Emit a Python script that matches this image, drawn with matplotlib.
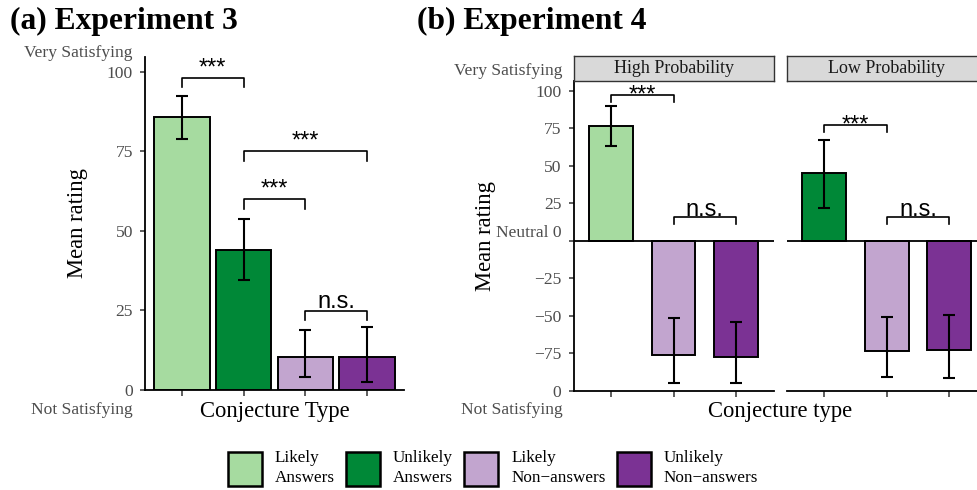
import numpy as np
import matplotlib
matplotlib.use("Agg")
from matplotlib import pyplot as plt
from matplotlib.patches import Patch

plt.rcParams['font.family'] = ['Liberation Serif', 'DejaVu Serif']

# conjecture types and their fill colours (PRGn)
types = ["Likely\nAnswers", "Unlikely\nAnswers", "Likely\nNon\u2212answers", "Unlikely\nNon\u2212answers"]
colours = ["#a6dba0", "#008837", "#c2a5cf", "#7b3294"]

# Experiment 3: mean rating with CI, one bar per type
exp3_type = [0, 1, 2, 3]
exp3_mean = [85.8, 44.0, 10.5, 10.5]
exp3_lo = [78.9, 34.5, 4.2, 2.6]
exp3_hi = [92.4, 53.6, 18.8, 19.7]
exp3_pairs = [(1, 2), (2, 4), (2, 3), (3, 4)]
exp3_bracket_y = [98.1, 75.1, 60.0, 24.9]
exp3_signif = ["***", "***", "***", "n.s."]

# Experiment 4: two probability facets, three bars each
exp4_facets = ["High Probability", "Low Probability"]
exp4_type = [[0, 2, 3], [1, 2, 3]]
exp4_mean = [[76.7, -76.0, -77.5], [45.1, -73.3, -72.7]]
exp4_lo = [[63.3, -94.9, -94.7], [21.5, -90.7, -91.8]]
exp4_hi = [[90.0, -51.8, -54.2], [67.1, -51.1, -49.3]]
exp4_pairs = [[(1, 2), (2, 3)], [(1, 2), (2, 3)]]
exp4_bracket_y = [[97.3, 15.6], [77.3, 15.6]]
exp4_signif = [["***", "n.s."], ["***", "n.s."]]

exp3_yticks = [0, 25, 50, 75, 100]
exp3_yticklabels = ["0", "25", "50", "75", "100"]
exp4_yticks = [-100, -75, -50, -25, 0, 25, 50, 75, 100]
exp4_yticklabels = ["0", "\u221275", "\u221250", "\u221225", "Neutral 0", "25", "50", "75", "100"]

W, H = 977, 490
GREY = "#4d4d4d"


def px(x, y):
    return x / W, 1 - y / H


def box(x0, y0, x1, y1):
    return [x0 / W, 1 - y1 / H, (x1 - x0) / W, (y1 - y0) / H]


def style_axis(ax, left=True):
    for s in ["top", "right"]:
        ax.spines[s].set_visible(False)
    ax.spines["bottom"].set_linewidth(1.3)
    ax.spines["left"].set_linewidth(1.3)
    if not left:
        ax.spines["left"].set_visible(False)
        ax.tick_params(axis="y", left=False, labelleft=False)
    ax.tick_params(axis="x", length=4.5, width=1.1, color="#333333", labelbottom=False)
    ax.tick_params(axis="y", length=3.6, width=1.1, color="#333333", pad=5,
                   labelsize=12.6, labelcolor=GREY)


def draw_bars(ax, types_idx, means, lo, hi, width):
    x = np.arange(1, len(means) + 1)
    means = np.array(means)
    ax.bar(x, means, width=width, color=[colours[i] for i in types_idx],
           edgecolor="black", linewidth=1.4, zorder=2)
    ax.errorbar(x, means, yerr=[means - np.array(lo), np.array(hi) - means],
                fmt="none", ecolor="black", elinewidth=1.5, capsize=4.3,
                capthick=1.5, zorder=3)
    ax.set_xticks(x)


def bracket(ax, a, b, y, label, drop, offset):
    ax.plot([a, a, b, b], [y - drop, y, y, y - drop], color="black", lw=1.2,
            zorder=3, clip_on=False)
    ax.annotate(label, ((a + b) / 2, y), xytext=(0, offset), textcoords="offset points",
                ha="center", va="baseline", fontsize=17, family="Liberation Sans",
                annotation_clip=False)


fig = plt.figure(figsize=(W / 100, H / 100), dpi=100)

# (a) Experiment 3
ax1 = fig.add_axes(box(145, 57, 404, 390))
draw_bars(ax1, exp3_type, exp3_mean, exp3_lo, exp3_hi, 0.9)
for (a, b), y, lab in zip(exp3_pairs, exp3_bracket_y, exp3_signif):
    bracket(ax1, a, b, y, lab, 3.05, 2.3)
ax1.set_xlim(0.4, 4.6)
ax1.set_ylim(0, 104.6)
ax1.set_yticks(exp3_yticks, exp3_yticklabels)
style_axis(ax1)

fig.text(*px(10, 21), "(a) Experiment 3", fontsize=22.7, fontweight="bold", va="center")
fig.text(*px(78, 223), "Mean rating", fontsize=16.3, rotation=90, ha="center", va="center")
fig.text(*px(274.5, 401), "Conjecture Type", fontsize=16.3, ha="center", va="top")
fig.text(*px(132.7, 52.7), "Very Satisfying", fontsize=12.6, color=GREY, ha="right", va="center")
fig.text(*px(132.7, 410), "Not Satisfying", fontsize=12.6, color=GREY, ha="right", va="center")

# (b) Experiment 4, one panel per facet
panel_x = [(573.5, 773.5), (786.7, 986.7)]
for k, (x0, x1) in enumerate(panel_x):
    ax = fig.add_axes(box(x0, 80.7, x1, 390.7))
    draw_bars(ax, exp4_type[k], exp4_mean[k], exp4_lo[k], exp4_hi[k], 0.7)
    ax.axhline(0, color="black", lw=1.3, zorder=2)
    for (a, b), y, lab in zip(exp4_pairs[k], exp4_bracket_y[k], exp4_signif[k]):
        off = -5.0 if lab == "***" else 0.8
        bracket(ax, a, b, y, lab, 4.6, off)
    ax.set_xlim(0.4, 3.6)
    ax.set_ylim(-100, 106.7)
    if k == 0:
        ax.set_yticks(exp4_yticks, exp4_yticklabels)
        for t in ax.get_yticklabels():
            if t.get_text().startswith("Neutral"):
                t.set_va("bottom")
    style_axis(ax, left=(k == 0))

    strip = fig.add_axes(box(x0, 55.7, x1, 80.7))
    strip.set_facecolor("#d9d9d9")
    strip.set_xticks([])
    strip.set_yticks([])
    for s in strip.spines.values():
        s.set_color("#333333")
        s.set_linewidth(1.0)
    strip.text(0.5, 0.5, exp4_facets[k], transform=strip.transAxes, ha="center",
               va="center", fontsize=13, color="#1a1a1a")

fig.text(*px(417.3, 21), "(b) Experiment 4", fontsize=22.7, fontweight="bold", va="center")
fig.text(*px(485, 236), "Mean rating", fontsize=16.3, rotation=90, ha="center", va="center")
fig.text(*px(780, 401), "Conjecture type", fontsize=16.3, ha="center", va="top")
fig.text(*px(562.7, 70.7), "Very Satisfying", fontsize=12.6, color=GREY, ha="right", va="center")
fig.text(*px(562.7, 410), "Not Satisfying", fontsize=12.6, color=GREY, ha="right", va="center")

# shared legend
handles = [Patch(facecolor=c, edgecolor="black", linewidth=1.8) for c in colours]
leg = fig.legend(handles, types, ncol=4, loc="center", bbox_to_anchor=px(493, 468),
                 frameon=False, fontsize=12.3, handlelength=2.0, handleheight=2.68,
                 handletextpad=0.75, columnspacing=0.65, borderpad=0)
for t in leg.get_texts():
    t.set_linespacing(1.36)

fig.savefig("out.png", dpi=100)
